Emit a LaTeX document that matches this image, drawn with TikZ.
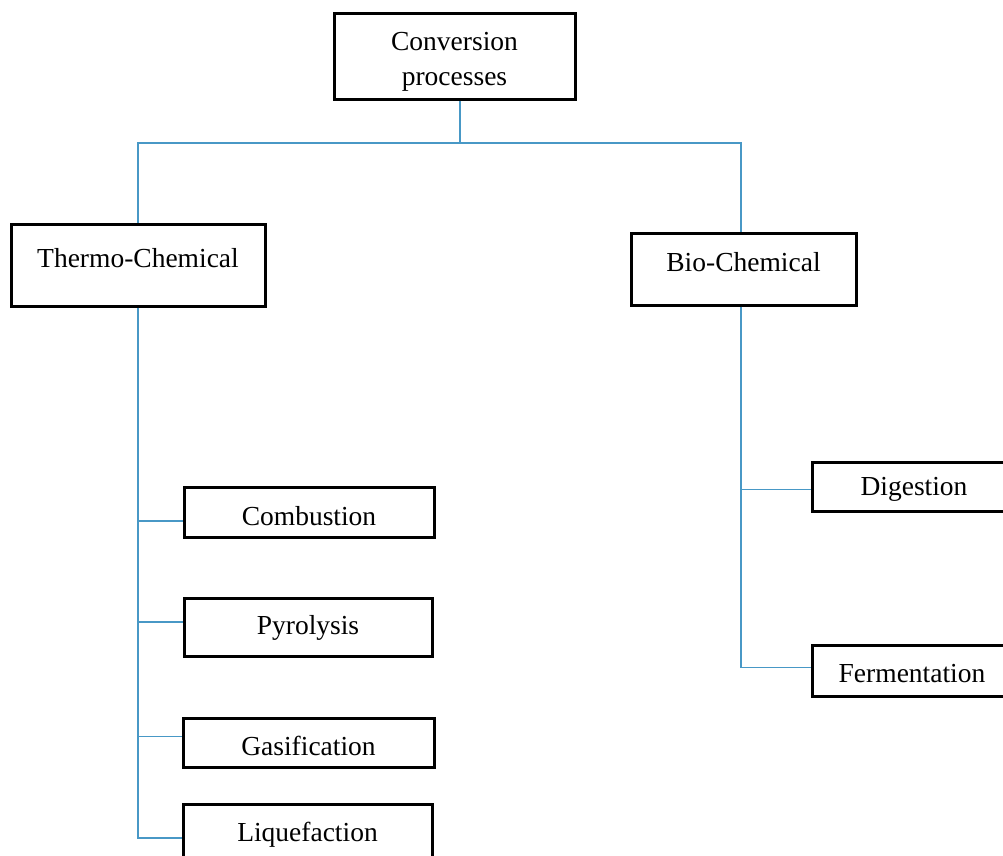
\documentclass[tikz,border=0pt]{standalone}
\usepackage{fontspec}
\setmainfont{Liberation Serif}
\definecolor{linkblue}{RGB}{72,152,198}
\begin{document}
\begin{tikzpicture}[x=1pt,y=-1pt,
  box/.style={draw=black, line width=3pt, fill=white, inner sep=0pt},
  lbl/.style={font=\fontsize{27.5}{35}\selectfont, align=center, inner sep=0pt, yshift=-3pt},
  link/.style={draw=linkblue, line width=1.8pt}]
\useasboundingbox (0,0) rectangle (1003,855);
\clip (0,0) rectangle (1003,855);

\coordinate (bus) at (0,143);

% boxes
\node[box, minimum width=241pt, minimum height=86pt,
  label={[lbl,yshift=-3pt]center:Conversion\\processes}] (conv) at (454.5,56) {};
\node[box, minimum width=254pt, minimum height=82pt,
  label={[lbl,yshift=10pt]center:Thermo-Chemical}] (thermo) at (138,265) {};
\node[box, minimum width=225pt, minimum height=72pt,
  label={[lbl,yshift=10pt]center:Bio-Chemical}] (bio) at (743.5,269) {};
\node[box, minimum width=250pt, minimum height=50pt,
  label={[lbl,yshift=-1pt]center:Combustion}] (comb) at (309,512) {};
\node[box, minimum width=248pt, minimum height=58pt,
  label={[lbl,yshift=2pt]center:Pyrolysis}] (pyro) at (308,627) {};
\node[box, minimum width=251pt, minimum height=49pt,
  label={[lbl]center:Gasification}] (gas) at (308.5,742.5) {};
\node[box, minimum width=249pt, minimum height=56pt,
  label={[lbl]center:Liquefaction}] (liq) at (307.5,832) {};
\node[box, minimum width=204pt, minimum height=49pt,
  label={[lbl]center:Digestion}] (dig) at (914,486.5) {};
\node[box, minimum width=200pt, minimum height=51pt,
  label={[lbl]center:Fermentation}] (ferm) at (912,670.5) {};

% trunk attachment points, a little off the box centres
\coordinate (convbot) at ([xshift=5.5pt]conv.south);
\coordinate (biotop) at ([xshift=-2.5pt]bio.north);
\coordinate (biobot) at ([xshift=-2.5pt]bio.south);

% top level
\draw[link] (convbot) -- (convbot |- bus);
\draw[link] (thermo.north) |- (biotop |- bus) -- (biotop);

% thermo-chemical branch
\draw[link] (thermo.south) |- ([yshift=-6pt]liq.west);
\draw[link] ([yshift=-9pt]comb.west -| thermo.south) -- ([yshift=-9pt]comb.west);
\draw[link] ([yshift=5pt]pyro.west -| thermo.south) -- ([yshift=5pt]pyro.west);
\draw[link] ([yshift=6pt]gas.west -| thermo.south) -- ([yshift=6pt]gas.west);

% bio-chemical branch
\draw[link] (biobot) |- ([yshift=3pt]ferm.west);
\draw[link] ([yshift=-3pt]dig.west -| biobot) -- ([yshift=-3pt]dig.west);
\end{tikzpicture}
\end{document}
